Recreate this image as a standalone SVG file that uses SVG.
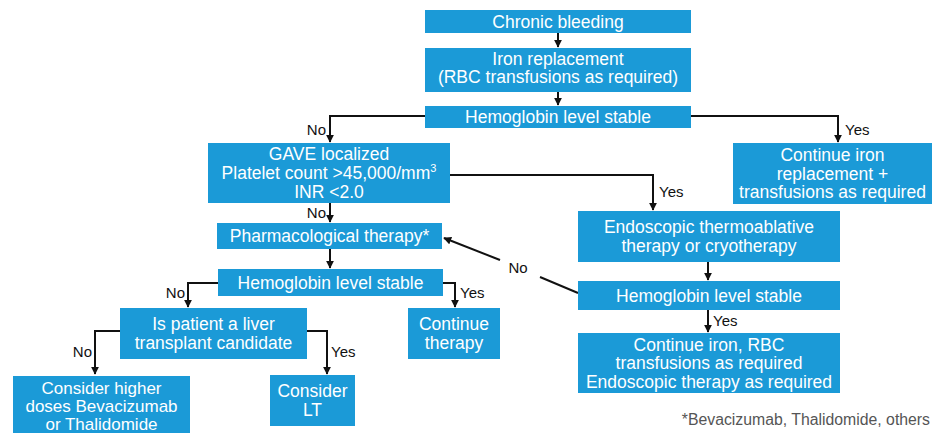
<svg xmlns="http://www.w3.org/2000/svg" width="936" height="433" viewBox="0 0 936 433">
<style>
.box{fill:#1b9ad7}
.t{font-family:"Liberation Sans",Arial,sans-serif;font-size:17.5px;fill:#ffffff;text-anchor:middle}
.ts{font-size:17px}
.lbl{font-family:"Liberation Sans",Arial,sans-serif;font-size:15px;fill:#111111}
.c{fill:none;stroke:#111111;stroke-width:2}
.fn{font-family:"Liberation Sans",Arial,sans-serif;font-size:15.8px;fill:#555555;text-anchor:end}
</style>
<defs>
<marker id="ah" viewBox="0 0 10 10" refX="9" refY="5" markerWidth="4" markerHeight="4" orient="auto" markerUnits="strokeWidth">
<path d="M0,0 L10,5 L0,10 z" fill="#111111"/>
</marker>
</defs>
<rect width="936" height="433" fill="#ffffff"/>

<g id="connectors">
<path class="c" d="M558,33 V47" marker-end="url(#ah)"/>
<path class="c" d="M558,92 V105" marker-end="url(#ah)"/>
<path class="c" d="M425,116 H330 V142" marker-end="url(#ah)"/>
<text class="lbl" x="326" y="135" text-anchor="end">No</text>
<path class="c" d="M691,116 H838 V142" marker-end="url(#ah)"/>
<text class="lbl" x="845" y="135">Yes</text>
<path class="c" d="M450,175 H653 V210" marker-end="url(#ah)"/>
<text class="lbl" x="659" y="197">Yes</text>
<path class="c" d="M330,203 V222" marker-end="url(#ah)"/>
<text class="lbl" x="326" y="218" text-anchor="end">No</text>
<path class="c" d="M330,249 V268" marker-end="url(#ah)"/>
<path class="c" d="M218,283 H188 V307" marker-end="url(#ah)"/>
<text class="lbl" x="185" y="298" text-anchor="end">No</text>
<path class="c" d="M443,283 H455 V307" marker-end="url(#ah)"/>
<text class="lbl" x="460" y="298">Yes</text>
<path class="c" d="M120,331 H95 V374" marker-end="url(#ah)"/>
<text class="lbl" x="92" y="357" text-anchor="end">No</text>
<path class="c" d="M307,331 H327 V374" marker-end="url(#ah)"/>
<text class="lbl" x="331" y="357">Yes</text>
<path class="c" d="M708,262 V280" marker-end="url(#ah)"/>
<path class="c" d="M708,310 V332" marker-end="url(#ah)"/>
<text class="lbl" x="713" y="326">Yes</text>
<path class="c" d="M578,293 L540,277"/>
<path class="c" d="M500,260 L444,238" marker-end="url(#ah)"/>
<text class="lbl" x="518" y="273" text-anchor="middle">No</text>
</g>

<g id="chronic-bleeding">
<rect class="box" x="425" y="10" width="266" height="23"/>
<text class="t" x="558" y="27.5">Chronic bleeding</text>
</g>
<g id="iron-replacement">
<rect class="box" x="425" y="48" width="266" height="44"/>
<text class="t" x="558" y="65">Iron replacement</text>
<text class="t" x="558" y="83">(RBC transfusions as required)</text>
</g>
<g id="hb-stable-1">
<rect class="box" x="425" y="106" width="266" height="22"/>
<text class="t" x="558" y="123">Hemoglobin level stable</text>
</g>
<g id="gave">
<rect class="box" x="208" y="143" width="242" height="60"/>
<text class="t" x="329" y="160">GAVE localized</text>
<text class="t" x="329" y="179">Platelet count &gt;45,000/mm<tspan font-size="11" dy="-7">3</tspan></text>
<text class="t" x="329" y="198">INR &lt;2.0</text>
</g>
<g id="continue-iron">
<rect class="box" x="733" y="143" width="199" height="61"/>
<text class="t" x="832.5" y="161">Continue iron</text>
<text class="t" x="832.5" y="179.5">replacement +</text>
<text class="t" x="832.5" y="198">transfusions as required</text>
</g>
<g id="pharmacological">
<rect class="box" x="217" y="223" width="225" height="26"/>
<text class="t" x="329.5" y="242">Pharmacological therapy*</text>
</g>
<g id="endoscopic">
<rect class="box" x="578" y="211" width="262" height="51"/>
<text class="t" x="709" y="233">Endoscopic thermoablative</text>
<text class="t" x="709" y="252">therapy or cryotherapy</text>
</g>
<g id="hb-stable-2">
<rect class="box" x="218" y="269" width="225" height="27"/>
<text class="t" x="330.5" y="289">Hemoglobin level stable</text>
</g>
<g id="hb-stable-3">
<rect class="box" x="578" y="281" width="262" height="29"/>
<text class="t" x="709" y="301.5">Hemoglobin level stable</text>
</g>
<g id="liver-candidate">
<rect class="box" x="120" y="308" width="187" height="51"/>
<text class="t" x="213.5" y="330">Is patient a liver</text>
<text class="t" x="213.5" y="349">transplant candidate</text>
</g>
<g id="continue-therapy">
<rect class="box" x="408" y="308" width="92" height="51"/>
<text class="t" x="454" y="330">Continue</text>
<text class="t" x="454" y="349">therapy</text>
</g>
<g id="continue-iron-rbc">
<rect class="box" x="578" y="333" width="262" height="60"/>
<text class="t" x="709" y="350.5">Continue iron, RBC</text>
<text class="t" x="709" y="369">transfusions as required</text>
<text class="t" x="709" y="387.5">Endoscopic therapy as required</text>
</g>
<g id="higher-doses">
<rect class="box" x="13" y="376" width="177" height="57"/>
<text class="t ts" x="101.5" y="393.5">Consider higher</text>
<text class="t ts" x="101.5" y="411.5">doses Bevacizumab</text>
<text class="t ts" x="101.5" y="429.5">or Thalidomide</text>
</g>
<g id="consider-lt">
<rect class="box" x="270" y="375" width="85" height="51"/>
<text class="t" x="312.5" y="397">Consider</text>
<text class="t" x="312.5" y="416">LT</text>
</g>
<text class="fn" x="930" y="425">*Bevacizumab, Thalidomide, others</text>
</svg>
